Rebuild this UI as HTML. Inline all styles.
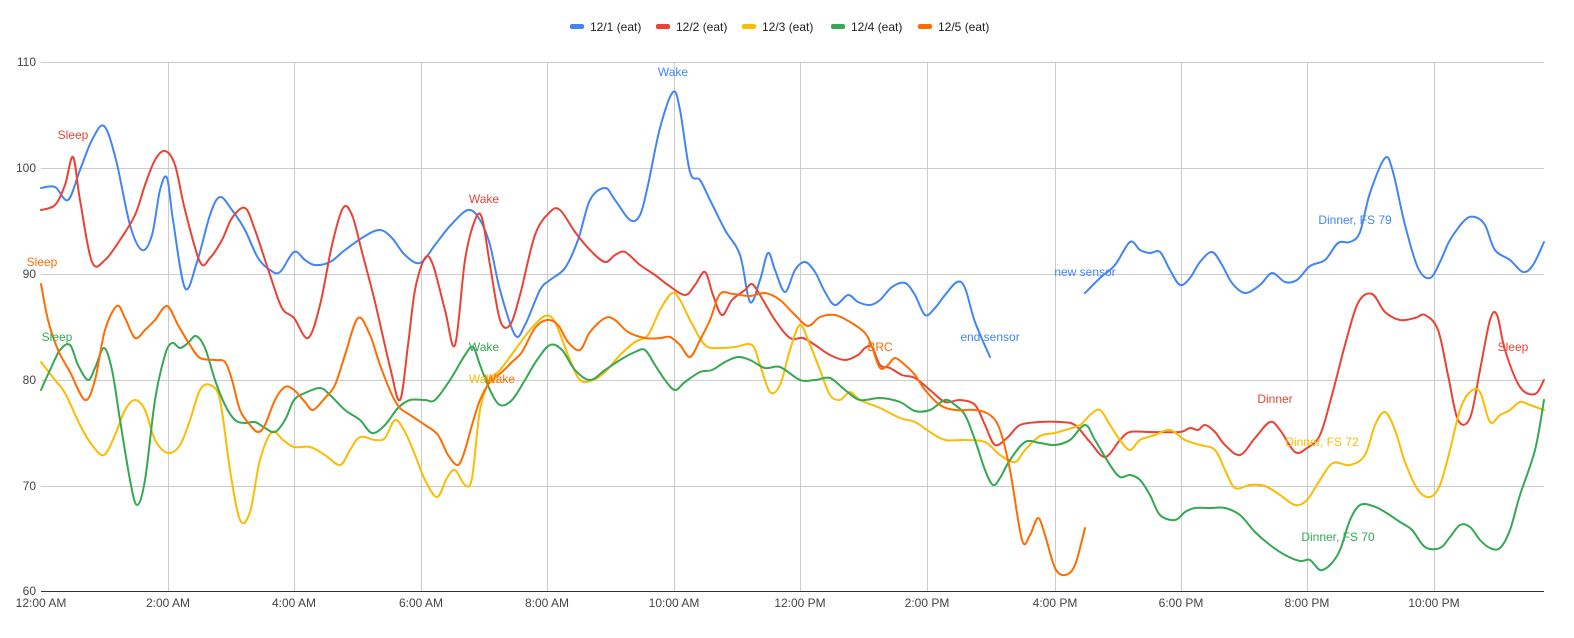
<!DOCTYPE html>
<html><head><meta charset="utf-8"><style>
body{margin:0;background:#fff;}
svg{display:block;font-family:"Liberation Sans",Arial,sans-serif;}
</style></head><body>
<svg id="c" width="1574" height="638" viewBox="0 0 1574 638" xmlns="http://www.w3.org/2000/svg">
<rect width="1574" height="638" fill="#fff"/>
<g stroke="#cccccc" stroke-width="1">
<line x1="41" y1="62.5" x2="1544" y2="62.5"/><line x1="41" y1="168.5" x2="1544" y2="168.5"/>
<line x1="41" y1="274.5" x2="1544" y2="274.5"/><line x1="41" y1="380.5" x2="1544" y2="380.5"/>
<line x1="41" y1="486.5" x2="1544" y2="486.5"/>
<line x1="168.5" y1="62" x2="168.5" y2="591"/><line x1="294.5" y1="62" x2="294.5" y2="591"/>
<line x1="421.5" y1="62" x2="421.5" y2="591"/><line x1="547.5" y1="62" x2="547.5" y2="591"/>
<line x1="674.5" y1="62" x2="674.5" y2="591"/><line x1="800.5" y1="62" x2="800.5" y2="591"/>
<line x1="927.5" y1="62" x2="927.5" y2="591"/><line x1="1055.5" y1="62" x2="1055.5" y2="591"/>
<line x1="1181.5" y1="62" x2="1181.5" y2="591"/><line x1="1307.5" y1="62" x2="1307.5" y2="591"/>
<line x1="1434.5" y1="62" x2="1434.5" y2="591"/>
</g>
<line x1="41" y1="591.5" x2="1544" y2="591.5" stroke="#333" stroke-width="1"/>
<g font-size="12" fill="#444" text-anchor="end">
<text x="36" y="66">110</text><text x="36" y="172">100</text><text x="36" y="278">90</text>
<text x="36" y="384">80</text><text x="36" y="490">70</text><text x="36" y="595">60</text>
</g>
<g font-size="12" fill="#444" text-anchor="middle">
<text x="41" y="607">12:00 AM</text><text x="168" y="607">2:00 AM</text><text x="294" y="607">4:00 AM</text>
<text x="421" y="607">6:00 AM</text><text x="547" y="607">8:00 AM</text><text x="674" y="607">10:00 AM</text>
<text x="800" y="607">12:00 PM</text><text x="927" y="607">2:00 PM</text><text x="1055" y="607">4:00 PM</text>
<text x="1181" y="607">6:00 PM</text><text x="1307" y="607">8:00 PM</text><text x="1434" y="607">10:00 PM</text>
</g>
<g font-size="12" fill="#222">
<rect x="570" y="24" width="14" height="5" rx="2" fill="#4285f4"/><text x="590" y="31">12/1 (eat)</text>
<rect x="656" y="24" width="14" height="5" rx="2" fill="#ea4335"/><text x="676" y="31">12/2 (eat)</text>
<rect x="742" y="24" width="14" height="5" rx="2" fill="#fbbc04"/><text x="762" y="31">12/3 (eat)</text>
<rect x="831" y="24" width="14" height="5" rx="2" fill="#34a853"/><text x="851" y="31">12/4 (eat)</text>
<rect x="918" y="24" width="14" height="5" rx="2" fill="#ff6d01"/><text x="938" y="31">12/5 (eat)</text>
</g>
<g id="lines" fill="none" stroke-width="2" stroke-linejoin="round" stroke-linecap="round"></g>
<g font-size="12" text-anchor="middle">
<text x="73" y="139" fill="#ea4335">Sleep</text>
<text x="42" y="266" fill="#ff6d01">Sleep</text>
<text x="57" y="341" fill="#34a853">Sleep</text>
<text x="673" y="76" fill="#4285f4">Wake</text>
<text x="484" y="203" fill="#ea4335">Wake</text>
<text x="484" y="351" fill="#34a853">Wake</text>
<text x="484" y="383" fill="#fbbc04">Wake</text>
<text x="500" y="383" fill="#ff6d01">Wake</text>
<text x="880" y="351" fill="#ff6d01">BRC</text>
<text x="990" y="341" fill="#4285f4">end sensor</text>
<text x="1085" y="276" fill="#4285f4">new sensor</text>
<text x="1355" y="224" fill="#4285f4">Dinner, FS 79</text>
<text x="1275" y="403" fill="#ea4335">Dinner</text>
<text x="1322" y="446" fill="#fbbc04">Dinner, FS 72</text>
<text x="1338" y="541" fill="#34a853">Dinner, FS 70</text>
<text x="1513" y="351" fill="#ea4335">Sleep</text>
</g>
</svg>
<script>
var S=[
["#4285f4",[41,188,55,187,68,200,80,170,92,140,104,126,116,160,130,225,142,250,152,235,160,190,167,178,173,220,185,288,197,262,210,215,220,197,232,210,245,230,258,258,270,270,280,272,294,252,305,260,315,265,330,262,345,250,365,236,380,230,392,238,405,255,420,263,435,245,450,226,468,210,480,220,490,245,500,290,515,335,525,325,540,290,550,280,565,268,578,240,590,200,605,188,615,200,630,220,640,215,648,185,660,128,673,92,680,110,690,172,700,180,710,200,725,230,740,255,750,302,760,280,768,253,775,270,785,292,795,270,805,262,815,272,825,292,835,305,848,295,858,302,870,305,880,300,892,287,905,283,915,295,925,315,935,308,945,295,957,282,965,288,975,322,990,357]],
["#4285f4",[1085,293,1100,278,1115,265,1130,242,1140,250,1150,253,1160,252,1170,270,1180,285,1190,278,1200,262,1212,252,1222,265,1232,283,1245,293,1260,285,1272,273,1285,282,1297,280,1310,266,1325,260,1338,243,1350,242,1360,232,1370,193,1385,158,1393,172,1405,225,1418,268,1430,278,1440,262,1450,240,1465,220,1475,217,1485,225,1495,250,1510,260,1523,272,1533,265,1544,242]],
["#ea4335",[41,210,55,205,65,185,73,157,80,200,92,262,105,260,120,240,135,215,145,185,155,160,165,151,175,165,185,210,200,262,210,258,222,240,232,218,245,208,255,230,270,275,282,308,294,318,308,338,320,305,332,245,343,208,352,215,362,252,375,302,390,367,400,400,408,345,415,290,425,258,433,265,445,310,455,345,465,260,475,220,482,218,490,265,500,320,510,325,520,295,535,235,550,212,560,210,575,232,590,250,605,262,615,255,625,252,640,265,655,275,668,285,685,295,695,285,705,272,713,295,722,315,732,300,745,290,752,284,760,295,775,320,790,338,803,338,815,345,830,355,845,360,858,355,865,348,872,347,880,365,890,368,902,375,915,378,930,390,945,402,960,400,975,405,985,425,995,445,1008,437,1020,425,1040,422,1060,422,1075,425,1090,442,1105,457,1120,440,1130,432,1150,432,1180,432,1190,428,1198,430,1205,425,1215,432,1225,445,1240,455,1255,438,1270,422,1280,430,1295,452,1307,448,1320,435,1332,395,1345,345,1358,303,1372,294,1385,312,1400,320,1415,318,1425,315,1438,330,1448,375,1458,420,1470,418,1480,370,1490,320,1497,315,1505,350,1520,387,1535,394,1544,380]],
["#fbbc04",[41,362,55,380,65,393,80,425,92,445,104,455,115,435,125,410,135,400,145,410,155,440,168,453,180,445,190,420,200,390,210,385,220,400,230,470,240,520,250,512,260,460,272,432,283,440,294,447,310,447,325,455,340,465,350,450,360,437,375,440,385,438,395,420,405,432,415,455,425,480,437,497,447,478,455,470,465,485,472,478,480,410,490,380,500,370,515,350,530,330,545,316,555,322,568,355,580,380,593,380,605,372,620,355,635,342,648,335,660,310,672,293,680,300,690,320,705,345,720,348,735,347,752,345,760,365,770,392,780,385,790,350,800,325,810,345,820,370,830,395,840,400,850,392,860,400,880,408,900,418,915,422,930,432,945,440,965,440,985,442,1000,455,1015,462,1025,450,1040,436,1055,433,1065,430,1080,425,1090,415,1100,410,1110,425,1120,440,1130,450,1140,440,1155,435,1170,430,1185,440,1200,445,1215,450,1225,470,1235,488,1250,485,1265,486,1280,495,1295,505,1307,500,1320,480,1333,463,1350,465,1365,455,1375,425,1385,412,1395,430,1405,462,1418,490,1430,497,1440,485,1450,450,1460,410,1470,392,1480,392,1490,422,1500,415,1510,410,1520,402,1530,405,1544,410]],
["#34a853",[41,390,50,370,60,350,70,345,78,365,88,380,95,368,104,348,112,370,120,420,130,480,137,505,145,480,155,400,165,355,172,343,180,348,188,343,196,336,205,348,215,380,225,405,235,420,245,423,255,422,265,428,275,432,285,420,294,400,305,393,320,388,330,395,345,410,360,420,372,433,385,425,398,408,410,400,425,400,435,400,450,380,465,355,473,347,480,365,490,390,500,405,512,400,525,380,537,360,550,345,562,350,575,370,590,380,605,370,620,360,635,352,645,350,655,365,665,380,675,390,685,382,700,372,712,370,725,362,738,357,750,360,765,368,780,367,800,380,815,380,830,378,845,390,860,400,880,398,900,402,915,411,930,410,945,400,955,405,965,415,975,440,985,470,993,485,1000,478,1010,460,1025,442,1040,443,1055,445,1070,440,1085,425,1095,440,1110,465,1120,477,1130,475,1140,480,1150,495,1160,515,1175,520,1185,512,1195,508,1210,508,1225,508,1240,515,1255,532,1270,545,1285,555,1300,561,1310,560,1320,570,1330,565,1340,550,1350,520,1360,505,1373,506,1385,512,1400,522,1412,530,1425,547,1440,548,1450,537,1460,525,1470,527,1480,540,1490,548,1500,548,1510,530,1520,495,1535,450,1544,400]],
["#ff6d01",[41,284,48,320,58,350,70,372,85,400,95,380,105,330,117,306,125,318,135,338,145,330,155,320,167,306,178,325,190,345,200,358,215,360,225,362,232,380,240,410,250,425,258,432,265,425,275,400,285,387,294,390,305,402,313,410,325,398,335,385,345,355,358,318,370,335,380,365,392,395,400,408,410,415,425,425,438,435,448,455,458,465,465,450,472,425,480,400,490,382,502,372,512,362,522,352,535,328,547,320,558,325,568,342,580,350,590,332,605,318,615,320,628,332,645,338,660,338,670,337,680,345,690,357,700,340,710,320,720,294,733,294,750,296,765,293,780,300,795,315,808,326,820,317,835,315,850,322,865,333,872,347,880,368,888,365,895,358,905,365,915,375,925,390,940,405,955,410,975,410,990,415,1000,430,1010,470,1022,540,1030,535,1038,518,1045,535,1055,568,1065,575,1075,565,1085,528]]
];
var g=document.getElementById("lines");
S.forEach(function(s){
 var a=s[1],p=[];for(var i=0;i<a.length;i+=2)p.push([a[i],a[i+1]]);
 var d="M"+p[0][0]+","+p[0][1];
 for(var i=0;i<p.length-1;i++){
  var p0=p[i-1]||p[i],p1=p[i],p2=p[i+1],p3=p[i+2]||p2;
  var c1x=p1[0]+(p2[0]-p0[0])/6,c1y=p1[1]+(p2[1]-p0[1])/6;
  var c2x=p2[0]-(p3[0]-p1[0])/6,c2y=p2[1]-(p3[1]-p1[1])/6;
  d+=" C"+c1x.toFixed(1)+","+c1y.toFixed(1)+" "+c2x.toFixed(1)+","+c2y.toFixed(1)+" "+p2[0]+","+p2[1];
 }
 var e=document.createElementNS("http://www.w3.org/2000/svg","path");
 e.setAttribute("d",d);e.setAttribute("stroke",s[0]);g.appendChild(e);
});
</script>
</body></html>
